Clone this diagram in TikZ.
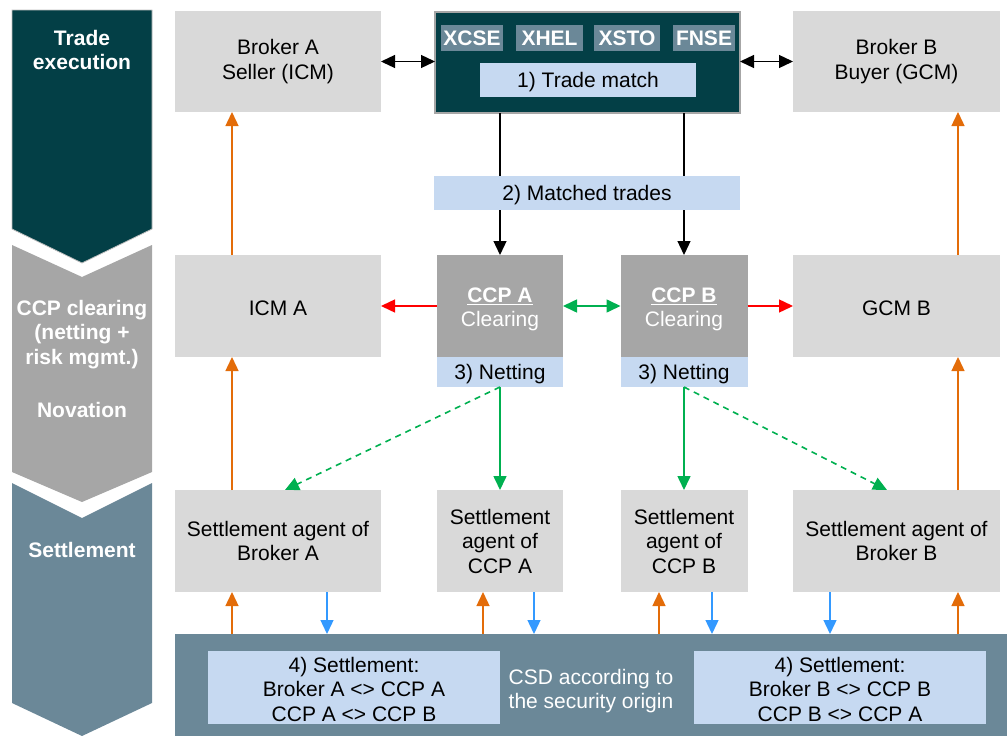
\documentclass[tikz,border=0pt]{standalone}
\usepackage{fontspec}
\setmainfont{Liberation Sans}
\usetikzlibrary{arrows.meta,calc}
\definecolor{cTeal}{HTML}{033F46}
\definecolor{cGrayDark}{HTML}{A6A6A6}
\definecolor{cSlate}{HTML}{6B8898}
\definecolor{cLight}{HTML}{D9D9D9}
\definecolor{cPale}{HTML}{C6D9F1}
\definecolor{cOrange}{HTML}{E36C09}
\definecolor{cBlue}{HTML}{3399FF}
\definecolor{cGreen}{HTML}{00B050}
\definecolor{cRed}{HTML}{FF0000}
\begin{document}
\begin{tikzpicture}[x=1pt,y=-1pt,
  font=\fontsize{21}{24.5}\selectfont,
  base/.style={rectangle,inner sep=0pt,outer sep=0pt,align=center,anchor=center},
  gbox/.style={base,fill=cLight},
  ccpbox/.style={base,fill=cGrayDark,text=white},
  pale/.style={base,fill=cPale},
  tag/.style={base,fill=cSlate,text=white,font=\fontsize{21}{24.5}\selectfont\bfseries,minimum height=26pt},
  chev/.style={draw=black!25,line width=0.8pt},
  chevtext/.style={text=white,align=center,font=\fontsize{21}{24.5}\selectfont\bfseries},
  inlbl/.style={align=center,inner sep=0pt},
  tipA/.style={-{Triangle[length=14pt,width=13pt]}},
  tipB/.style={{Triangle[length=14pt,width=13pt]}-{Triangle[length=14pt,width=13pt]}},
  blk/.style={line width=1.3pt,black},
  org/.style={line width=1.4pt,cOrange,tipA},
  blu/.style={line width=1.4pt,cBlue,tipA},
  grn/.style={line width=1.6pt,cGreen},
  red/.style={line width=1.4pt,cRed,tipA}
]
\useasboundingbox (0,0) rectangle (1007,736);

% left chevrons
\fill[cTeal] (12,10) -- (152,10) -- (152,229) -- (82,263) -- (12,229) -- cycle;
\draw[chev] (12,10) -- (152,10) -- (152,229) -- (82,263) -- (12,229) -- cycle;
\fill[cGrayDark] (12,245) -- (82,277) -- (152,245) -- (152,472) -- (82,502) -- (12,472) -- cycle;
\fill[cSlate] (12,483) -- (82,518) -- (152,483) -- (152,703) -- (82,736) -- (12,703) -- cycle;
\node[chevtext] (lab1) at (82,50) {Trade\\execution};
\node[chevtext] (lab2) at (82,334.5) {CCP clearing\\(netting +\\risk mgmt.)};
\node[chevtext] (lab3) at (82,410) {Novation};
\node[chevtext] (lab4) at (82,550) {Settlement};

% top row
\node[gbox,minimum width=206pt,minimum height=101pt] (brokerA) at (278,61.5) {Broker A\\Seller (ICM)};
\node[base,fill=cTeal,draw=cGrayDark,line width=1.5pt,minimum width=305pt,minimum height=101pt] (exch) at (587.5,62.5) {};
\node[tag,minimum width=62pt] (xcse) at (472,38) {XCSE};
\node[tag,minimum width=67pt] (xhel) at (549.5,38) {XHEL};
\node[tag,minimum width=66pt] (xsto) at (627,38) {XSTO};
\node[tag,minimum width=62pt] (fnse) at (704,38) {FNSE};
\node[pale,minimum width=216pt,minimum height=34pt,label={[inlbl,yshift=-2pt]center:1) Trade match}] (match) at (588,80) {};
\node[gbox,minimum width=207pt,minimum height=101pt] (brokerB) at (896.5,61.5) {Broker B\\Buyer (GCM)};

\node[pale,minimum width=306pt,minimum height=34pt,label={[inlbl,yshift=-2pt]center:2) Matched trades}] (matched) at (587,193) {};

% middle row
\node[gbox,minimum width=206pt,minimum height=102pt,label={[inlbl,yshift=-2pt]center:ICM A}] (icmA) at (278,306) {};
\node[ccpbox,minimum width=126pt,minimum height=102pt,label={[inlbl,text=white,yshift=-3.5pt]center:\underline{\textbf{CCP A}}\\Clearing}] (ccpA) at (500,306) {};
\node[pale,minimum width=126pt,minimum height=30pt,label={[inlbl,yshift=-2.5pt]center:3) Netting}] (netA) at (500,372) {};
\node[ccpbox,minimum width=127pt,minimum height=102pt,label={[inlbl,text=white,yshift=-3.5pt]center:\underline{\textbf{CCP B}}\\Clearing}] (ccpB) at (684,306) {};
\node[pale,minimum width=127pt,minimum height=30pt,label={[inlbl,yshift=-2.5pt]center:3) Netting}] (netB) at (684,372) {};
\node[gbox,minimum width=207pt,minimum height=102pt,label={[inlbl,yshift=-2pt]center:GCM B}] (gcmB) at (896.5,306) {};

% settlement row
\node[gbox,minimum width=206pt,minimum height=102pt] (saBA) at (278,541) {Settlement agent of\\Broker A};
\node[gbox,minimum width=126pt,minimum height=102pt] (saCA) at (500,541) {Settlement\\agent of\\CCP A};
\node[gbox,minimum width=127pt,minimum height=102pt] (saCB) at (684,541) {Settlement\\agent of\\CCP B};
\node[gbox,minimum width=207pt,minimum height=102pt] (saBB) at (896.5,541) {Settlement agent of\\Broker B};

% CSD
\node[base,fill=cSlate,minimum width=832pt,minimum height=102pt] (csd) at (591,685) {};
\node[base,text=white] (csdtext) at (591,691) {CSD according to\\the security origin};
\node[pale,minimum width=292pt,minimum height=73pt,label={[inlbl,yshift=-1.5pt]center:4) Settlement:\\Broker A <> CCP A\\CCP A <> CCP B}] (setA) at (354,687.5) {};
\node[pale,minimum width=292pt,minimum height=73pt,label={[inlbl,yshift=-1.5pt]center:4) Settlement:\\Broker B <> CCP B\\CCP B <> CCP A}] (setB) at (840,687.5) {};

% x positions
\coordinate (xo1) at (232,0);
\coordinate (xb1) at (327,0);
\coordinate (xo2) at (483,0);
\coordinate (xb2) at (534,0);
\coordinate (xo3) at (659,0);
\coordinate (xb3) at (712,0);
\coordinate (xb4) at (830,0);
\coordinate (xo4) at (958,0);
\coordinate (dA) at (285,0);
\coordinate (dB) at (887,0);

% black connectors
\draw[blk,tipB] (brokerA.east) -- (exch.west |- brokerA.east);
\draw[blk,tipB] (exch.east |- brokerB.west) -- (brokerB.west);
\draw[blk] (exch.south -| ccpA) -- (matched.north -| ccpA);
\draw[blk] (exch.south -| ccpB) -- (matched.north -| ccpB);
\draw[blk,tipA] (matched.south -| ccpA) -- (ccpA.north);
\draw[blk,tipA] (matched.south -| ccpB) -- (ccpB.north);

% red and green horizontal
\draw[red] (ccpA.west) -- (icmA.east);
\draw[red] (ccpB.east) -- (gcmB.west);
\draw[grn,tipB] (ccpA.east) -- (ccpB.west);

% green from netting
\draw[grn,tipA] (netA.south) -- (saCA.north);
\draw[grn,tipA] (netB.south) -- (saCB.north);
\draw[grn,tipA,dash pattern=on 6pt off 5pt] (netA.south) -- (saBA.north -| dA);
\draw[grn,tipA,dash pattern=on 6pt off 5pt] (netB.south) -- (saBB.north -| dB);

% orange upward
\draw[org] (csd.north -| xo1) -- (saBA.south -| xo1);
\draw[org] (saBA.north -| xo1) -- (icmA.south -| xo1);
\draw[org] (icmA.north -| xo1) -- (brokerA.south -| xo1);
\draw[org] (csd.north -| xo2) -- (saCA.south -| xo2);
\draw[org] (csd.north -| xo3) -- (saCB.south -| xo3);
\draw[org] (csd.north -| xo4) -- (saBB.south -| xo4);
\draw[org] (saBB.north -| xo4) -- (gcmB.south -| xo4);
\draw[org] (gcmB.north -| xo4) -- (brokerB.south -| xo4);

% blue downward
\draw[blu] (saBA.south -| xb1) -- (csd.north -| xb1);
\draw[blu] (saCA.south -| xb2) -- (csd.north -| xb2);
\draw[blu] (saCB.south -| xb3) -- (csd.north -| xb3);
\draw[blu] (saBB.south -| xb4) -- (csd.north -| xb4);
\end{tikzpicture}
\end{document}
